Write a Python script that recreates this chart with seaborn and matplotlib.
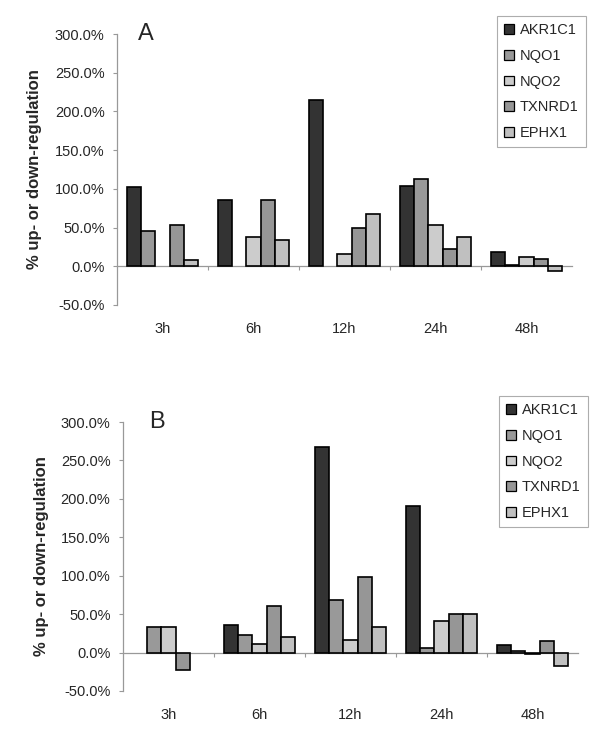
import numpy as np
import pandas as pd
import matplotlib
matplotlib.use('Agg')
import matplotlib.pyplot as plt
from matplotlib.patches import Patch
from matplotlib.ticker import FuncFormatter
import seaborn as sns

# Values (% up- or down-regulation)
times = ['3h', '6h', '12h', '24h', '48h']
genes = ['AKR1C1', 'NQO1', 'NQO2', 'TXNRD1', 'EPHX1']
gene_colors = ['#333333', '#999999', '#cccccc', '#969696', '#c0c0c0']

# Panel A
akr1c1_a = [102, 86, 215, 104, 18]
nqo1_a = [46, np.nan, np.nan, 113, 2]
nqo2_a = [np.nan, 38, 16, 53, 12]
txnrd1_a = [53, 86, 50, 22, 9]
ephx1_a = [8, 34, 68, 38, -6]

# Panel B
akr1c1_b = [np.nan, 36, 268, 191, 9.5]
nqo1_b = [33, 23, 68, 6.5, 2.5]
nqo2_b = [33, 11, 16, 41, -1.5]
txnrd1_b = [-23, 61, 98, 50, 15]
ephx1_b = [np.nan, 20, 33, 50, -18]

sns.set_style('white')
plt.rcParams['font.family'] = ['Liberation Sans', 'DejaVu Sans']


def long_table(series):
    rows = []
    for gene, vals in zip(genes, series):
        for t, v in zip(times, vals):
            rows.append({'time': t, 'gene': gene, 'value': v})
    return pd.DataFrame(rows)


def draw_panel(ax, df, letter, letter_x, label_x):
    sns.barplot(data=df, x='time', y='value', hue='gene', order=times, hue_order=genes,
                palette=gene_colors, edgecolor='black', linewidth=1.2, width=0.77,
                errorbar=None, saturation=1, legend=False, ax=ax)
    ax.set_ylim(-50, 300)
    ax.set_xlim(-0.5, 4.5)
    ax.set_yticks(np.arange(-50, 301, 50))
    ax.yaxis.set_major_formatter(FuncFormatter(lambda v, p: f'{v:.1f}%'))
    ax.tick_params(axis='y', length=3, color='#999999', labelsize=10.5, pad=6, left=True)
    ax.tick_params(axis='x', length=0, labelsize=10.5, pad=12)
    for s in ['top', 'right', 'bottom']:
        ax.spines[s].set_visible(False)
    ax.spines['left'].set_color('#999999')
    ax.spines['left'].set_linewidth(0.9)
    ax.set_xlabel('')
    ax.set_ylabel('% up- or down-regulation', fontsize=12, fontweight='bold')
    ax.yaxis.set_label_coords(label_x, 0.5)

    # category axis line at zero with ticks between groups
    zero_ax = ax.secondary_xaxis(50 / 350)
    zero_ax.set_xticks([0.5, 1.5, 2.5, 3.5])
    zero_ax.set_xticklabels([])
    zero_ax.tick_params(length=3, color='#999999', direction='out')
    zero_ax.spines['bottom'].set_color('#999999')
    zero_ax.spines['bottom'].set_linewidth(0.9)

    ax.text(letter_x, 1.0, letter, transform=ax.transAxes, fontsize=17,
            va='center', ha='left')


fig = plt.figure(figsize=(6, 7.45), dpi=100)
ax_a = fig.add_axes([117 / 600, 1 - 305 / 745, 455 / 600, 271 / 745])
ax_b = fig.add_axes([123 / 600, 1 - 691 / 745, 455 / 600, 269 / 745])

draw_panel(ax_a, long_table([akr1c1_a, nqo1_a, nqo2_a, txnrd1_a, ephx1_a]), 'A', 0.046, -0.165)
draw_panel(ax_b, long_table([akr1c1_b, nqo1_b, nqo2_b, txnrd1_b, ephx1_b]), 'B', 0.057, -0.163)

handles = [Patch(facecolor=c, edgecolor='black', linewidth=0.9) for c in gene_colors]
for top, left in [(16, 497), (396, 499)]:
    leg = fig.legend(handles, genes, loc='upper left',
                     bbox_to_anchor=(left / 600, 1 - top / 745), bbox_transform=fig.transFigure,
                     fontsize=10.5, frameon=True, fancybox=False, borderaxespad=0,
                     borderpad=0.5, handlelength=0.65, handleheight=0.65,
                     handletextpad=0.4, labelspacing=0.8)
    leg.get_frame().set_edgecolor('#999999')
    leg.get_frame().set_linewidth(0.8)

fig.savefig('out.png', dpi=100)
